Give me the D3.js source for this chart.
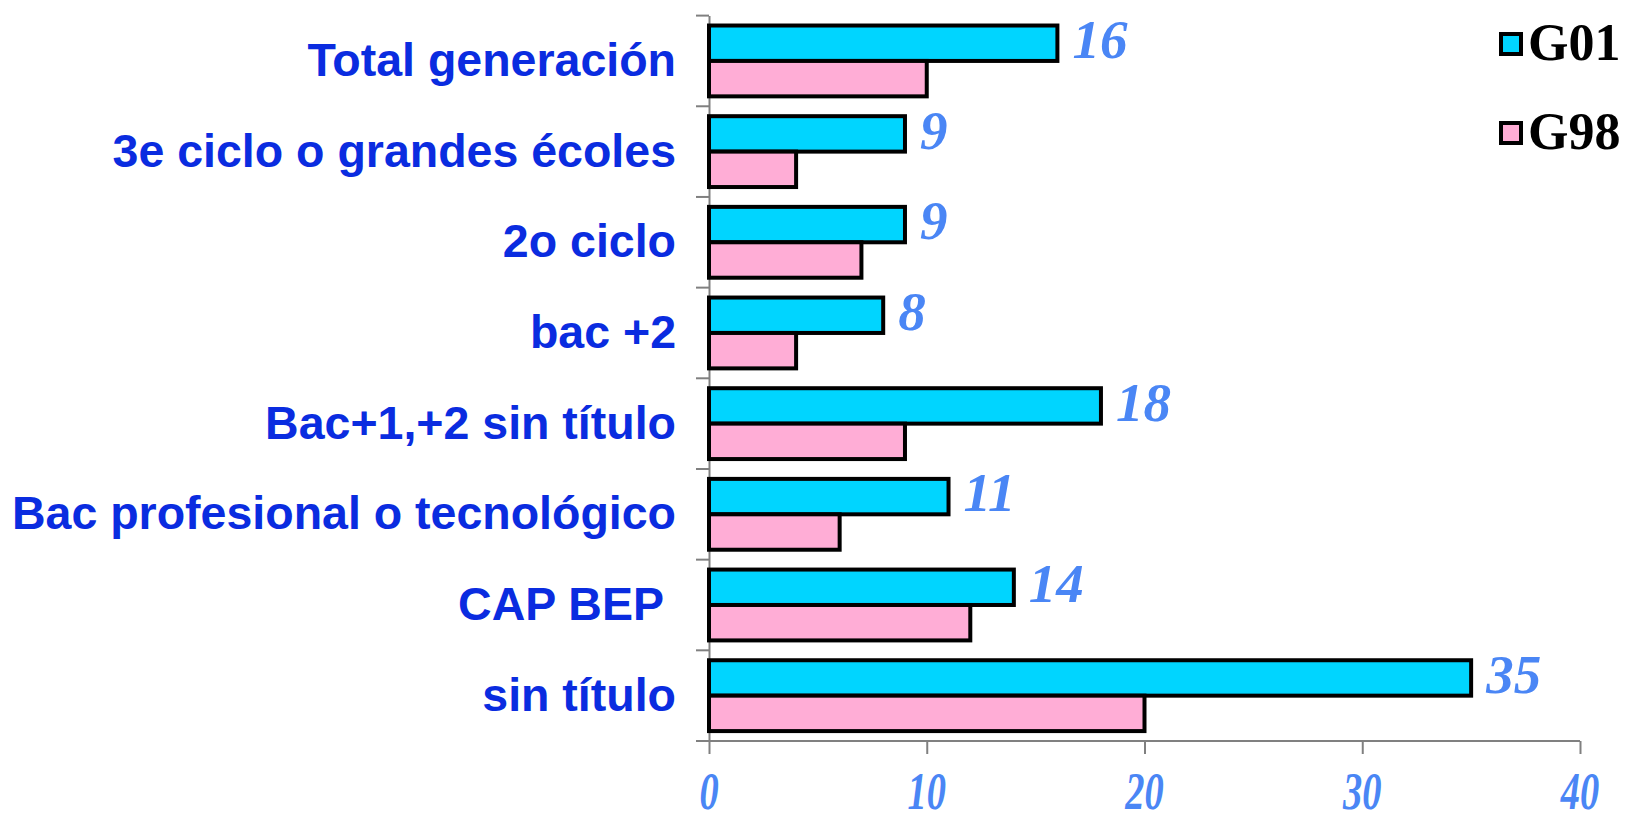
<!DOCTYPE html>
<html lang="en">
<head>
    <meta charset="UTF-8"/>
    <title>G01 vs G98</title>
    <script type="text/javascript" src="https://d3js.org/d3.v7.min.js"></script>
    <style>
        body { margin: 0; background: #fff; }
        svg { display: block; }
    </style>
</head>
<body>
<script type="text/javascript">

    var categories = ["Total generación", "3e ciclo o grandes écoles", "2o ciclo", "bac +2",
        "Bac+1,+2 sin título", "Bac profesional o tecnológico", "CAP BEP ", "sin título"];
    var seriesNames = ["G01", "G98"];
    var g01 = [16, 9, 9, 8, 18, 11, 14, 35];
    var g98 = [10, 4, 7, 4, 9, 6, 12, 20];
    var xTicks = [0, 10, 20, 30, 40];
    var colors = ["#00d5ff", "#ffadd6"];

    var width = 1631, height = 822;

    var svg = d3.select("body").append("svg")
        .attr("width", width)
        .attr("height", height);

    var x = d3.scaleLinear().domain([0, 40]).range([709, 1580]);

    var y = d3.scaleBand().domain(categories).range([15.6, 741]);

    var sub = d3.scaleBand().domain(seriesNames)
        .range([0, y.bandwidth()])
        .paddingInner(0).paddingOuter(0.28);

    var data = categories.map(function (c, i) {
        return {cat: c, values: [{s: "G01", v: g01[i]}, {s: "G98", v: g98[i]}]};
    });

    // axes
    var xAxis = d3.axisBottom(x).tickValues(xTicks).tickSize(13).tickFormat("");
    var gx = svg.append("g")
        .attr("transform", "translate(0,741)")
        .call(xAxis);
    gx.select(".domain").attr("d", "M696,0H1580");
    gx.selectAll("line, path").attr("stroke", "#808080").attr("stroke-width", 2);

    var yAxis = d3.axisLeft(y).tickSize(0).tickFormat("");
    var gy = svg.append("g")
        .attr("transform", "translate(709,0)")
        .call(yAxis);
    gy.selectAll("line, path").attr("stroke", "#808080").attr("stroke-width", 2);
    gy.selectAll(".tick").remove();

    // category separators on y axis
    var sepVals = categories.map(function (c) { return y(c); }).concat([741]);
    svg.append("g").selectAll("line")
        .data(sepVals)
        .enter().append("line")
        .attr("x1", 696).attr("x2", 709)
        .attr("y1", function (d) { return d; })
        .attr("y2", function (d) { return d; })
        .attr("stroke", "#808080").attr("stroke-width", 2);

    // x tick labels
    svg.append("g").selectAll("text")
        .data(xTicks)
        .enter().append("text")
        .attr("transform", function (d) { return "translate(" + x(d) + ",809) scale(0.74,1)"; })
        .attr("text-anchor", "middle")
        .attr("font-family", "Liberation Serif, Times New Roman, serif")
        .attr("font-style", "italic")
        .attr("font-weight", "bold")
        .attr("font-size", 52)
        .attr("fill", "#4a86f5")
        .text(function (d) { return d; });

    // bars
    var groups = svg.append("g").selectAll("g")
        .data(data)
        .enter().append("g")
        .attr("transform", function (d) { return "translate(0," + y(d.cat) + ")"; });

    groups.selectAll("rect")
        .data(function (d) { return d.values; })
        .enter().append("rect")
        .attr("x", x(0))
        .attr("y", function (d) { return sub(d.s); })
        .attr("width", function (d) { return x(d.v) - x(0); })
        .attr("height", sub.bandwidth())
        .attr("fill", function (d, i) { return colors[i]; })
        .attr("stroke", "#000")
        .attr("stroke-width", 4);

    // value labels on G01
    groups.append("text")
        .attr("x", function (d) { return x(d.values[0].v) + 15; })
        .attr("y", function () { return sub("G01") + sub.bandwidth() - 3; })
        .attr("font-family", "Liberation Serif, Times New Roman, serif")
        .attr("font-style", "italic")
        .attr("font-weight", "bold")
        .attr("font-size", 55)
        .attr("fill", "#4a86f5")
        .text(function (d) { return d.values[0].v; });

    // category labels
    svg.append("g").selectAll("text")
        .data(categories)
        .enter().append("text")
        .attr("x", 676)
        .attr("y", function (d) { return y(d) + y.bandwidth() / 2 + 15; })
        .attr("text-anchor", "end")
        .attr("font-family", "Liberation Sans, Arial, sans-serif")
        .attr("font-weight", "bold")
        .attr("font-size", 46.5)
        .attr("fill", "#0a2ce0")
        .style("white-space", "pre")
        .text(function (d) { return d; });

    // legend
    var legend = svg.append("g").selectAll("g")
        .data(seriesNames)
        .enter().append("g")
        .attr("transform", function (d, i) { return "translate(1501," + (34 + i * 89) + ")"; });

    legend.append("rect")
        .attr("width", 20).attr("height", 20)
        .attr("fill", function (d, i) { return colors[i]; })
        .attr("stroke", "#000").attr("stroke-width", 4);

    legend.append("text")
        .attr("x", 27).attr("y", 26)
        .attr("font-family", "Liberation Serif, Times New Roman, serif")
        .attr("font-weight", "bold")
        .attr("font-size", 52)
        .attr("fill", "#000")
        .text(function (d) { return d; });

</script>
</body>
</html>
